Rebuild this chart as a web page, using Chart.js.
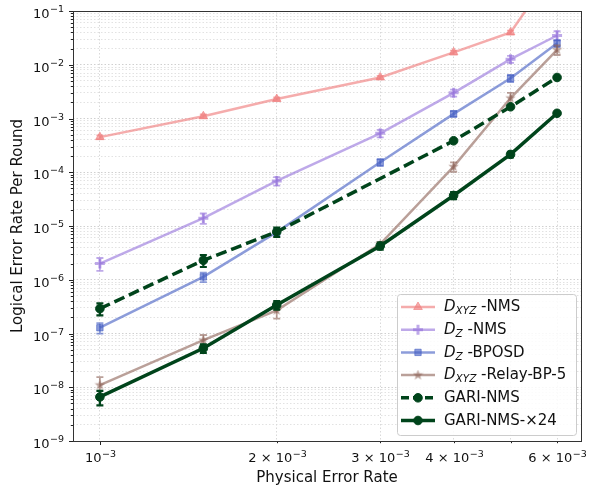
<!DOCTYPE html>
<html>
<head>
<meta charset="utf-8">
<script src="https://cdn.jsdelivr.net/npm/chart.js@4.4.1/dist/chart.umd.min.js"></script>
<style>
  html, body { margin: 0; background: #fff; }
  canvas { display: block; }
</style>
</head>
<body>
<canvas id="chart" width="589" height="490"></canvas>
<script>
// physical error rates (x)
const physRates = [0.001, 0.0015, 0.002, 0.003, 0.004, 0.005, 0.006];

// logical error rate per round
const dxyzNms      = [4.5e-4, 1.1e-3, 2.3e-3, 5.8e-3, 1.7e-2, 4.0e-2, 0.7];
const dzNms        = [2.0e-6, 1.4e-5, 6.9e-5, 5.3e-4, 3.0e-3, 1.27e-2, 3.5e-2];
const dzBposd      = [1.28e-7, 1.13e-6, 7.7e-6, 1.53e-4, 1.22e-3, 5.6e-3, 2.5e-2];
const dxyzRelay    = [1.1e-8, 7.5e-8, 2.7e-7, 4.6e-6, 1.27e-4, 2.4e-3, 1.9e-2];
const gariNms      = [2.9e-7, 2.3e-6, 7.8e-6, null, 3.85e-4, 1.65e-3, 5.8e-3];
const gariNmsX24   = [6.6e-9, 5.3e-8, 3.4e-7, 4.25e-6, 3.7e-5, 2.15e-4, 1.25e-3];

// relative error (sigma / value) for the error bars
const dxyzNmsErr    = [0.08, 0.08, 0.07, 0.07, 0.08, 0.08, 0.08];
const dzNmsErr      = [0.27, 0.22, 0.18, 0.16, 0.15, 0.15, 0.2];
const dzBposdErr    = [0.22, 0.2, 0.15, 0.15, 0.12, 0.15, 0.15];
const dxyzRelayErr  = [0.4, 0.25, 0.3, 0.1, 0.2, 0.25, 0.2];
const gariNmsErr    = [0.25, 0.25, 0.2, null, 0.05, 0.05, 0.05];
const gariNmsX24Err = [0.3, 0.18, 0.18, 0.15, 0.15, 0.12, 0.05];

// tick labels: [mantissa prefix, exponent]
const xTickValues = [0.001, 0.002, 0.003, 0.004, 0.005, 0.006];
const xTickLabels = [['10', '\u22123'], ['2 \u00D7 10', '\u22123'], ['3 \u00D7 10', '\u22123'], ['4 \u00D7 10', '\u22123'], null, ['6 \u00D7 10', '\u22123']];
const yDecades = [1e-9, 1e-8, 1e-7, 1e-6, 1e-5, 1e-4, 1e-3, 1e-2, 1e-1];
const yDecadeLabels = [['10', '\u22129'], ['10', '\u22128'], ['10', '\u22127'], ['10', '\u22126'], ['10', '\u22125'], ['10', '\u22124'], ['10', '\u22123'], ['10', '\u22122'], ['10', '\u22121']];

const FONT = "'DejaVu Sans', sans-serif";
const GREEN = '#00441b';

const yTickValues = [];
yDecades.slice(0, -1).forEach(d => { for (let m = 1; m <= 9; m++) yTickValues.push(Number((m * d).toPrecision(3))); });
yTickValues.push(1e-1);

const isDecade = v => Math.abs(Math.log10(v) - Math.round(Math.log10(v))) < 1e-6;

function starImage(color, size) {
  const c = document.createElement('canvas');
  c.width = size; c.height = size;
  const g = c.getContext('2d');
  const r = size / 2, ri = r * 0.42;
  g.beginPath();
  for (let i = 0; i < 10; i++) {
    const a = -Math.PI / 2 + i * Math.PI / 5;
    const rr = i % 2 ? ri : r;
    g.lineTo(r + rr * Math.cos(a), r + rr * Math.sin(a));
  }
  g.closePath();
  g.fillStyle = color;
  g.fill();
  return c;
}

const series = [
  { label: 'D|XYZ| -NMS', data: dxyzNms, err: dxyzNmsErr, color: 'rgba(240,128,128,0.65)', width: 2.5, style: 'triangle', radius: 5, order: 6 },
  { label: 'D|Z| -NMS', data: dzNms, err: dzNmsErr, color: 'rgba(147,112,219,0.6)', width: 2.5, style: 'cross', radius: 5, order: 5, pbw: 3 },
  { label: 'D|Z| -BPOSD', data: dzBposd, err: dzBposdErr, color: 'rgba(70,95,195,0.62)', width: 2.5, style: 'rect', radius: 4.5, order: 4 },
  { label: 'D|XYZ| -Relay-BP-5', data: dxyzRelay, err: dxyzRelayErr, color: 'rgba(140,96,85,0.6)', width: 2.5, style: starImage('rgba(140,96,85,0.6)', 11), radius: 5, order: 3 },
  { label: 'GARI-NMS', data: gariNms, err: gariNmsErr, color: GREEN, width: 3.5, dash: [11, 5], style: 'circle', radius: 4.3, order: 2 },
  { label: 'GARI-NMS-\u00D724', data: gariNmsX24, err: gariNmsX24Err, color: GREEN, width: 3.5, style: 'circle', radius: 4.3, order: 1 },
];

const datasets = series.map(s => ({
  label: s.label,
  data: physRates.map((x, i) => ({ x, y: s.data[i] })),
  err: s.err,
  borderColor: s.color,
  backgroundColor: s.color,
  borderWidth: s.width,
  borderDash: s.dash || [],
  pointStyle: s.style,
  pointRadius: s.radius,
  pointBorderWidth: s.pbw || 1,
  pointBackgroundColor: s.color,
  pointBorderColor: s.color,
  spanGaps: true,
  order: s.order,
  tension: 0,
}));

const errorBars = {
  id: 'errorBars',
  afterDatasetDraw(chart, args) {
    const ds = chart.data.datasets[args.index];
    if (!ds.err) return;
    const { ctx, chartArea: a, scales: { x, y } } = chart;
    ctx.save();
    ctx.beginPath();
    ctx.rect(a.left, a.top, a.right - a.left, a.bottom - a.top);
    ctx.clip();
    ctx.strokeStyle = ds.borderColor;
    ctx.lineWidth = ds.borderColor === GREEN ? 2.2 : 1.8;
    ds.data.forEach((p, i) => {
      const e = ds.err[i];
      if (p.y == null || e == null) return;
      const px = x.getPixelForValue(p.x);
      const y0 = y.getPixelForValue(p.y * (1 - e));
      const y1 = y.getPixelForValue(p.y * (1 + e));
      ctx.beginPath();
      ctx.moveTo(px, y0); ctx.lineTo(px, y1);
      ctx.moveTo(px - 3.5, y0); ctx.lineTo(px + 3.5, y0);
      ctx.moveTo(px - 3.5, y1); ctx.lineTo(px + 3.5, y1);
      ctx.stroke();
    });
    ctx.restore();
  }
};

// "10" with a raised exponent; align: 'right' or 'center'
function drawPower(ctx, base, exp, x, baseline, align) {
  ctx.font = `13px ${FONT}`;
  const wb = ctx.measureText(base).width;
  ctx.font = `9.5px ${FONT}`;
  const we = ctx.measureText(exp).width;
  const total = wb + we + 0.5;
  let left = align === 'right' ? x - total : x - total / 2;
  ctx.textAlign = 'left';
  ctx.textBaseline = 'alphabetic';
  ctx.font = `13px ${FONT}`;
  ctx.fillText(base, left, baseline);
  ctx.font = `9.5px ${FONT}`;
  ctx.fillText(exp, left + wb + 0.5, baseline - 5.5);
}

function drawLabel(ctx, text, x, y) {
  const parts = text.split('|');
  ctx.textBaseline = 'middle';
  ctx.textAlign = 'left';
  if (parts.length === 1) {
    ctx.font = `15px ${FONT}`;
    ctx.fillText(text, x, y);
    return;
  }
  ctx.font = `italic 15px ${FONT}`;
  ctx.fillText(parts[0], x, y);
  x += ctx.measureText(parts[0]).width;
  ctx.font = `italic 10.5px ${FONT}`;
  ctx.fillText(parts[1], x, y + 4);
  x += ctx.measureText(parts[1]).width;
  ctx.font = `15px ${FONT}`;
  ctx.fillText(parts[2], x, y);
}

const frame = {
  id: 'frame',
  afterDraw(chart) {
    const { ctx, chartArea: a, scales: { x, y } } = chart;
    ctx.save();
    // tick marks and labels
    ctx.strokeStyle = '#222';
    ctx.fillStyle = '#111';
    ctx.lineWidth = 1;
    yTickValues.forEach(v => {
      const py = Math.round(y.getPixelForValue(v)) + 0.5;
      const len = isDecade(v) ? 4 : 2.2;
      ctx.beginPath(); ctx.moveTo(a.left - len, py); ctx.lineTo(a.left, py); ctx.stroke();
      if (isDecade(v)) {
        const lab = yDecadeLabels[Math.round(Math.log10(v)) + 9];
        drawPower(ctx, lab[0], lab[1], a.left - 9, py + 6, 'right');
      }
    });
    xTickValues.forEach((v, i) => {
      const px = Math.round(x.getPixelForValue(v)) + 0.5;
      const len = isDecade(v) ? 4 : 2.2;
      ctx.beginPath(); ctx.moveTo(px, a.bottom); ctx.lineTo(px, a.bottom + len); ctx.stroke();
      const lab = xTickLabels[i];
      if (lab) drawPower(ctx, lab[0], lab[1], px, a.bottom + 21, 'center');
    });
    // spines
    ctx.strokeStyle = '#333';
    ctx.strokeRect(Math.round(a.left) + 0.5, Math.round(a.top) + 0.5, Math.round(a.right - a.left), Math.round(a.bottom - a.top));

    // legend
    const lx = 397, ly = 294, lw = 179, lh = 141;
    ctx.beginPath();
    ctx.roundRect(lx + 0.5, ly + 0.5, lw, lh, 3);
    ctx.fillStyle = 'rgba(255,255,255,0.85)';
    ctx.fill();
    ctx.strokeStyle = '#cccccc';
    ctx.lineWidth = 1;
    ctx.stroke();
    chart.data.datasets.forEach((ds, i) => {
      const cy = 307 + i * 22.7;
      ctx.save();
      ctx.strokeStyle = ds.borderColor;
      ctx.lineWidth = ds.borderWidth;
      ctx.setLineDash(ds.borderDash.length ? [8, 4] : []);
      ctx.beginPath(); ctx.moveTo(401, cy); ctx.lineTo(435, cy); ctx.stroke();
      ctx.setLineDash([]);
      ctx.fillStyle = ds.pointBackgroundColor;
      ctx.strokeStyle = ds.pointBorderColor;
      ctx.lineWidth = ds.pointBorderWidth;
      Chart.helpers.drawPoint(ctx, { pointStyle: ds.pointStyle, radius: ds.pointRadius, rotation: 0, borderWidth: ds.pointBorderWidth }, 418, cy);
      ctx.restore();
      ctx.fillStyle = '#111';
      drawLabel(ctx, ds.label, 444, cy + 0.5);
    });
    ctx.restore();
  }
};

new Chart(document.getElementById('chart'), {
  type: 'line',
  data: { datasets },
  plugins: [errorBars, frame],
  options: {
    responsive: false,
    animation: false,
    layout: { padding: { left: 0, right: 6, top: 11, bottom: 0 } },
    plugins: { legend: { display: false }, tooltip: { enabled: false } },
    scales: {
      x: {
        type: 'logarithmic',
        min: 0.0009,
        max: 0.00659,
        afterBuildTicks: s => { s.ticks = xTickValues.map(v => ({ value: v })); },
        afterFit: s => { s.height = 49; },
        ticks: { display: false },
        grid: { drawTicks: false, color: '#cfcfcf', lineWidth: 0.8 },
        border: { display: false, dash: [1.5, 2] },
        title: { display: true, text: 'Physical Error Rate', color: '#111', font: { family: FONT, size: 15 }, padding: { top: 0, bottom: 3 } },
      },
      y: {
        type: 'logarithmic',
        min: 1e-9,
        max: 1e-1,
        afterBuildTicks: s => { s.ticks = yTickValues.map(v => ({ value: v })); },
        afterFit: s => { s.width = 73; },
        ticks: { display: false },
        grid: { drawTicks: false, color: ctx => (ctx.tick && isDecade(ctx.tick.value)) ? '#c4c4c4' : '#dadada', lineWidth: 0.8 },
        border: { display: false, dash: [1.5, 2] },
        title: { display: true, text: 'Logical Error Rate Per Round', color: '#111', font: { family: FONT, size: 15 }, padding: { top: 9, bottom: 0 } },
      },
    },
  },
});
</script>
</body>
</html>
